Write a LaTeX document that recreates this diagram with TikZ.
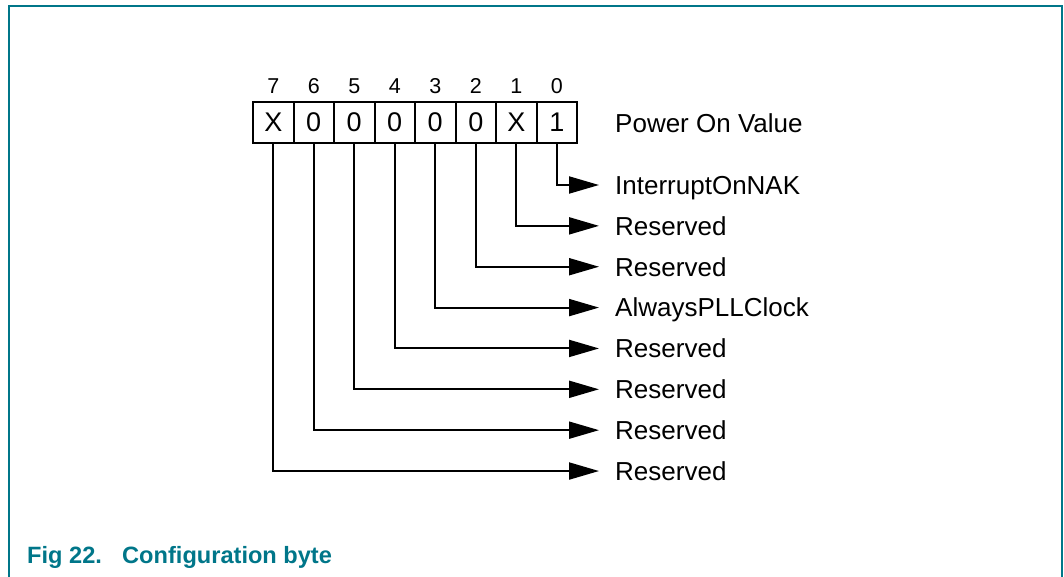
\documentclass[tikz,border=0pt]{standalone}
\usepackage{fontspec}
\setmainfont{Liberation Sans}
\usetikzlibrary{arrows.meta}
\definecolor{nxpteal}{RGB}{0,118,137}
\begin{document}
\begin{tikzpicture}[x=1pt,y=-1pt,
  frame/.style={draw=nxpteal,line width=2pt},
  cell/.style={draw,line width=2pt,minimum width=40.5pt,minimum height=40.4pt,inner sep=0pt,font=\fontsize{27}{30}\selectfont},
  bitnum/.style={inner sep=0pt,anchor=base,font=\fontsize{21.5}{24}\selectfont},
  lbl/.style={inner sep=0pt,anchor=base west,font=\fontsize{26}{30}\selectfont},
  arr/.style={line width=2pt,-{Triangle[length=30pt,width=17pt]}},
  figcap/.style={inner sep=0pt,anchor=base west,text=nxpteal,font=\fontsize{23.6}{27}\selectfont\bfseries}]
\useasboundingbox (0,0) rectangle (1064,576);
\draw[frame] (9,577) -- (9,6) -- (1062,6) -- (1062,577);
% cells
\foreach \i/\v in {7/X,6/0,5/0,4/0,3/0,2/0,1/X,0/1}{
  \node[cell] (c\i) at ({253+40.5*(7-\i)+20.25},122.5) {\v};
  \node[bitnum] (n\i) at ({253+40.5*(7-\i)+20.25},93.5) {\i};
}
\node[lbl] (pov) at (615,132) {Power On Value};
\foreach \i/\t in {0/InterruptOnNAK,1/Reserved,2/Reserved,3/AlwaysPLLClock,4/Reserved,5/Reserved,6/Reserved,7/Reserved}{
  \coordinate (t\i) at (599,{185+40.86*\i});
  \node[lbl] (l\i) at (615,{185+40.86*\i+9.3}) {\t};
  \draw[arr] (c\i.south) |- (t\i);
}
\node[figcap] (fig) at (27,563) {Fig 22.};
\node[figcap] (figtitle) at (122,563) {Configuration byte};
\end{tikzpicture}
\end{document}
